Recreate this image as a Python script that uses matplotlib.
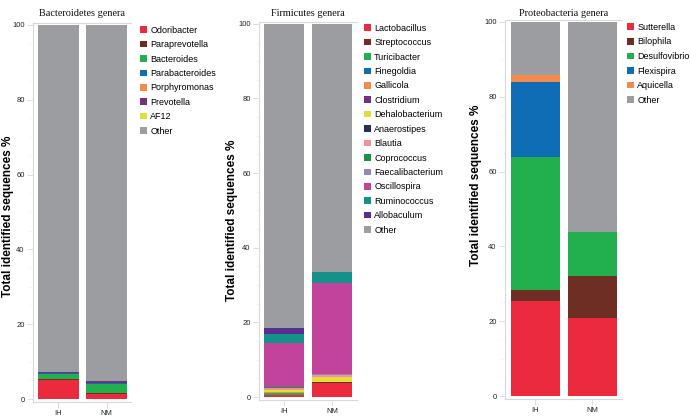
import matplotlib
matplotlib.use("Agg")
import matplotlib.pyplot as plt
from matplotlib.patches import Patch
import numpy as np

groups = ["IH", "NM"]

bact_genera = ["Odoribacter", "Paraprevotella", "Bacteroides", "Parabacteroides",
               "Porphyromonas", "Prevotella", "AF12", "Other"]
bact_IH = [5.1, 0.2, 1.3, 0.4, 0.0, 0.2, 0.0, 92.8]
bact_NM = [1.4, 0.3, 2.2, 0.3, 0.0, 0.7, 0.0, 95.1]
bact_colors = ["#EC2A3E", "#6E2E24", "#22B04E", "#0E6DB4", "#F48A4C", "#74307A", "#E3DF36", "#9B9DA1"]

firm_genera = ["Lactobacillus", "Streptococcus", "Turicibacter", "Finegoldia", "Gallicola",
               "Clostridium", "Dehalobacterium", "Anaerostipes", "Blautia", "Coprococcus",
               "Faecalibacterium", "Oscillospira", "Ruminococcus", "Allobaculum", "Other"]
firm_IH = [0.5, 0.1, 0.4, 0.05, 0.3, 0.1, 0.4, 0.05, 0.4, 0.4, 0.1, 11.7, 2.3, 1.6, 81.6]
firm_NM = [3.7, 0.3, 0.0, 0.0, 0.1, 0.0, 1.2, 0.0, 0.5, 0.1, 0.2, 24.5, 3.0, 0.0, 66.4]
firm_colors = ["#EC2A3E", "#6E2E24", "#22B04E", "#0E6DB4", "#F48A4C", "#74307A", "#E3DF36",
               "#2B2C5C", "#F1939B", "#17924A", "#9484C0", "#C1449A", "#14928A", "#5A2D90", "#9B9DA1"]

prot_genera = ["Sutterella", "Bilophila", "Desulfovibrio", "Flexispira", "Aquicella", "Other"]
prot_IH = [25.4, 2.9, 35.6, 20.1, 1.8, 14.2]
prot_NM = [20.8, 11.3, 11.8, 0.0, 0.0, 56.1]
prot_colors = ["#EC2A3E", "#6E2E24", "#22B04E", "#0E6DB4", "#F48A4C", "#9B9DA1"]

titles = ["Bacteroidetes genera", "Firmicutes genera", "Proteobacteria genera"]

W, H = 691, 416
fig = plt.figure(figsize=(W / 100, H / 100), dpi=100)

sans = "Liberation Sans"
serif = "Liberation Serif"
spine_c = "#D8D8D8"

panels = [
    dict(genera=bact_genera, IH=bact_IH, NM=bact_NM, colors=bact_colors,
         box=(33, 131, 23, 402), xlim=(-0.53, 1.51), width=0.854, ylab=(8, 216),
         leg=(138, 24), ls=0.6),
    dict(genera=firm_genera, IH=firm_IH, NM=firm_NM, colors=firm_colors,
         box=(259, 357, 22, 400), xlim=(-0.52, 1.52), width=0.83, ylab=(232, 220),
         leg=(362, 22), ls=0.6),
    dict(genera=prot_genera, IH=prot_IH, NM=prot_NM, colors=prot_colors,
         box=(505, 622, 20, 399), xlim=(-0.535, 1.52), width=0.86, ylab=(476, 185),
         leg=(625, 21), ls=0.62),
]

for p, title in zip(panels, titles):
    l, r, t, b = p["box"]
    ax = fig.add_axes([l / W, 1 - b / H, (r - l) / W, (b - t) / H])
    x = np.arange(len(groups))
    bottoms = np.zeros(len(groups))
    for i, g in enumerate(p["genera"]):
        vals = np.array([p["IH"][i], p["NM"][i]])
        ax.bar(x, vals, bottom=bottoms, width=p["width"], color=p["colors"][i],
               linewidth=0)
        bottoms += vals
    ax.set_xlim(*p["xlim"])
    ax.set_ylim(-0.8, 100.5)
    ax.set_xticks(x)
    ax.set_xticklabels(groups, fontsize=5.5, family=sans, color="#222222")
    ax.set_yticks([0, 20, 40, 60, 80, 100])
    ax.set_yticklabels(["0", "20", "40", "60", "80", "100"], fontsize=5.5, family=sans, color="#222222")
    ax.set_yticks(np.arange(0, 101, 5), minor=True)
    ax.tick_params(axis="y", which="major", length=4, width=0.6, color=spine_c, pad=2)
    ax.tick_params(axis="y", which="minor", length=3, width=0.4, color="#EBEBEB")
    ax.tick_params(axis="x", length=4, width=0.6, color=spine_c, pad=1.5)
    for s in ["left", "bottom", "top"]:
        ax.spines[s].set_color(spine_c)
        ax.spines[s].set_linewidth(0.8)
    ax.spines["right"].set_visible(False)
    fig.text(((l + r) / 2) / W, 1 - 13 / H, title, ha="center", va="center",
             fontsize=7.4, family=serif, color="#111111")
    yx, yy = p["ylab"]
    fig.text(yx / W, 1 - yy / H, "Total identified sequences %", rotation=90,
             ha="center", va="center", fontsize=8.5, fontweight="bold", family=sans)
    handles = [Patch(facecolor=c, edgecolor="none") for c in p["colors"]]
    lx, ly = p["leg"]
    ax.legend(handles, p["genera"], loc="upper left",
              bbox_to_anchor=(lx / W, 1 - ly / H), bbox_transform=fig.transFigure,
              frameon=False, prop={"family": sans, "size": 6.5},
              handlelength=0.75, handleheight=0.75, handletextpad=0.4,
              labelspacing=p["ls"], borderaxespad=0, borderpad=0.2)

fig.savefig("out.png", dpi=100)
